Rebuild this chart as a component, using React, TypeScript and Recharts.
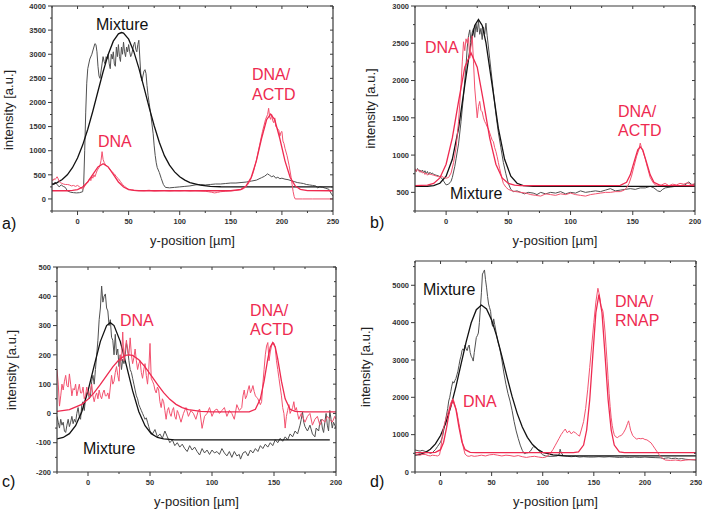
import React from 'react';
import { LineChart, Line, XAxis, YAxis } from 'recharts';

type Pt = [number, number];

// ---- panel a ----
const aMixtureData: Pt[] = [[-25,330],[-23,300],[-22,350],[-20,300],[-18,250],[-16,290],[-14,260],[-12,240],[-10,170],[-7,140],[-4,130],[-1,125],[2,130],[5,150],[6,300],[7,1000],[8,1800],[9,2400],[10,2700],[12,2900],[14,3000],[16,3150],[17,3220],[18,3200],[19,3050],[20,2750],[21,2550],[22,2500],[24,2800],[25,2950],[26,2850],[27,2800],[28,2950],[29,2900],[30,3000],[31,2800],[32,2700],[33,3000],[34,2900],[35,3050],[36,2800],[37,2750],[38,3150],[39,2950],[40,3200],[41,2950],[42,2850],[43,3150],[44,3000],[45,3250],[46,3050],[47,2950],[48,3150],[49,3050],[50,3200],[51,3050],[52,2950],[53,3000],[54,3100],[55,3200],[56,3250],[57,3100],[58,3050],[59,3200],[60,3290],[61,2900],[62,2550],[63,2450],[64,2550],[65,2650],[66,2680],[67,2600],[68,2350],[69,2150],[70,2000],[72,1700],[74,1350],[75,1100],[76,900],[77,750],[78,650],[80,550],[82,420],[84,300],[86,240],[90,230],[95,240],[100,250],[105,260],[110,270],[115,290],[120,300],[125,290],[130,300],[135,310],[140,310],[145,320],[150,330],[155,330],[160,340],[165,350],[170,370],[175,390],[180,440],[183,470],[186,520],[188,490],[190,460],[192,480],[194,430],[196,450],[198,420],[200,430],[203,410],[206,400],[209,380],[212,360],[215,340],[218,330],[221,320],[224,300],[227,290],[230,280],[233,270],[235,230],[237,250],[240,240],[243,220],[246,200],[248,120],[250,60]];
const aMixtureFit: Pt[] = [[-25,299],[-20,338],[-15,402],[-10,500],[-5,647],[0,850],[5,1116],[10,1444],[15,1823],[20,2232],[25,2637],[30,2996],[35,3271],[40,3424],[43,3450],[45,3438],[50,3312],[55,3059],[60,2713],[65,2314],[70,1904],[75,1517],[80,1177],[85,898],[90,700],[95,560],[100,460],[105,390],[110,340],[120,285],[130,262],[140,253],[250,250]];
const aDnaData: Pt[] = [[-25,400],[-24,380],[-23,420],[-22,400],[-21,430],[-20,460],[-19,420],[-18,360],[-17,340],[-16,330],[-14,310],[-12,300],[-10,300],[-8,290],[-6,270],[-4,280],[-2,260],[0,280],[2,250],[4,220],[5,200],[6,230],[8,300],[10,360],[12,420],[13,380],[14,470],[15,430],[16,500],[17,460],[18,520],[19,580],[20,620],[21,650],[22,700],[23,800],[24,980],[25,820],[26,760],[27,720],[28,700],[30,660],[32,600],[34,560],[36,520],[38,460],[40,420],[42,360],[44,300],[46,260],[48,230],[50,200],[53,190],[56,180],[60,175],[65,170],[70,180],[75,165],[80,170],[85,175],[90,165],[95,172],[100,168],[105,175],[110,165],[115,170],[120,165],[125,160],[128,150],[131,140],[134,125],[137,135],[140,150],[145,160],[150,170],[155,175],[160,190],[163,220],[166,280],[169,380],[172,550],[175,800],[178,1100],[181,1400],[184,1650],[186,1750],[187,1880],[188,1700],[189,1650],[190,1750],[191,1620],[192,1580],[193,1680],[194,1500],[195,1480],[196,1450],[197,1420],[198,1300],[199,1380],[200,1400],[201,1200],[202,1150],[203,1050],[205,900],[207,700],[209,450],[210,300],[211,150],[212,50],[213,0],[220,0],[230,0],[250,0]];
const aDnaFit: Pt[] = [[-25,170],[-10,170],[-5,176],[0,195],[5,246],[10,352],[15,510],[20,664],[25,730],[30,664],[35,510],[40,352],[45,246],[50,195],[55,176],[60,170],[150,170],[160,198],[165,270],[170,450],[175,790],[180,1248],[185,1642],[189,1760],[193,1642],[198,1248],[203,790],[208,450],[213,270],[218,198],[225,172],[250,170]];

// ---- panel b ----
const bMixtureData: Pt[] = [[-25,800],[-24,780],[-23,820],[-22,790],[-21,800],[-20,770],[-19,800],[-18,760],[-17,790],[-16,750],[-15,780],[-14,740],[-13,770],[-12,750],[-11,760],[-10,740],[-8,730],[-6,720],[-4,700],[-2,650],[0,600],[2,610],[4,650],[5,700],[7,850],[8,950],[10,1150],[12,1450],[14,1800],[16,2200],[17,2450],[18,2600],[19,2680],[20,2520],[21,2650],[22,2700],[23,2580],[24,2760],[25,2650],[26,2800],[27,2620],[28,2700],[29,2550],[30,2720],[31,2620],[32,2770],[33,2600],[34,2450],[35,2300],[36,2150],[38,1850],[40,1550],[42,1300],[44,1100],[46,900],[48,750],[50,620],[52,540],[54,510],[57,520],[60,500],[63,480],[66,500],[70,490],[73,470],[76,500],[80,480],[84,500],[88,490],[92,510],[96,480],[100,500],[104,490],[108,520],[112,500],[116,510],[120,520],[124,510],[128,530],[132,550],[136,520],[140,530],[144,540],[148,550],[152,540],[156,560],[160,560],[164,580],[167,560],[170,520],[172,510],[174,540],[176,560],[180,570],[184,580],[188,590],[192,600],[195,640],[197,610],[200,600]];
const bMixtureFit: Pt[] = [[-25,580],[-15,582],[-10,590],[-5,622],[0,717],[5,943],[10,1358],[15,1939],[20,2510],[23,2740],[26,2820],[29,2740],[32,2510],[37,1939],[42,1358],[47,943],[52,717],[57,622],[62,590],[70,580],[200,580]];
const bDnaData: Pt[] = [[-25,820],[-24,780],[-23,810],[-22,790],[-21,770],[-20,790],[-19,760],[-18,770],[-17,740],[-16,760],[-15,730],[-14,750],[-12,740],[-10,730],[-8,720],[-6,710],[-4,720],[-2,700],[0,690],[2,700],[4,760],[6,900],[8,1100],[10,1450],[11,1700],[12,1950],[13,2250],[14,2520],[15,2400],[16,2560],[17,2500],[18,2580],[19,2300],[20,2480],[21,2600],[22,2250],[23,1900],[24,1700],[25,1500],[26,1650],[27,1720],[28,1600],[29,1580],[30,1500],[31,1450],[32,1420],[33,1380],[34,1350],[35,1300],[36,1250],[37,1200],[38,1180],[39,1100],[40,1050],[41,980],[42,900],[43,820],[44,750],[45,680],[46,620],[48,570],[50,540],[53,520],[56,510],[60,500],[64,490],[68,470],[72,460],[76,450],[80,480],[84,470],[88,460],[92,480],[96,470],[100,490],[104,470],[108,460],[112,450],[116,470],[120,480],[124,490],[128,500],[132,500],[136,510],[140,510],[143,530],[145,560],[147,620],[149,720],[151,850],[153,980],[155,1080],[156,1160],[157,1100],[158,1060],[160,950],[162,820],[164,700],[166,640],[168,600],[170,590],[173,600],[176,620],[179,590],[182,610],[185,600],[188,620],[191,610],[194,630],[197,600],[200,620]];
const bDnaFit: Pt[] = [[-25,590],[-15,597],[-10,620],[-5,694],[0,878],[5,1230],[10,1720],[15,2179],[20,2370],[25,2179],[30,1720],[35,1230],[40,878],[45,694],[50,620],[55,597],[60,590],[140,593],[145,636],[148,735],[151,906],[154,1070],[156,1110],[158,1070],[161,906],[164,735],[167,636],[172,593],[200,590]];

// ---- panel c ----
const cMixtureData: Pt[] = [[-25,-10],[-24,-30],[-23,-50],[-22,-20],[-21,-40],[-20,-30],[-19,-60],[-18,-65],[-17,-40],[-16,-20],[-15,-45],[-14,-30],[-13,-10],[-12,-35],[-11,-20],[-10,-30],[-9,0],[-8,20],[-7,-10],[-6,-20],[-5,30],[-4,40],[-3,10],[-2,50],[-1,70],[0,80],[1,50],[2,60],[3,110],[4,130],[5,100],[6,150],[7,200],[8,250],[9,320],[10,360],[11,435],[12,380],[13,400],[14,408],[15,360],[16,350],[17,300],[18,320],[19,260],[20,250],[21,200],[22,270],[23,200],[24,220],[25,160],[26,200],[27,150],[28,185],[29,170],[30,200],[31,240],[32,220],[33,180],[34,150],[35,140],[36,120],[37,100],[38,80],[39,60],[40,50],[41,30],[42,20],[43,10],[44,0],[45,-10],[46,-20],[47,-15],[48,-30],[49,-45],[50,-60],[52,-70],[54,-55],[56,-80],[58,-70],[60,-85],[62,-60],[64,-80],[66,-100],[68,-90],[70,-110],[72,-100],[74,-115],[76,-105],[78,-120],[80,-130],[82,-110],[84,-125],[86,-115],[88,-130],[90,-142],[92,-120],[94,-135],[96,-125],[98,-140],[100,-125],[102,-135],[104,-130],[106,-140],[108,-120],[110,-135],[112,-145],[114,-130],[116,-150],[118,-130],[120,-145],[122,-140],[123,-156],[125,-135],[127,-130],[129,-145],[131,-125],[133,-135],[135,-120],[137,-130],[139,-110],[141,-120],[143,-105],[145,-115],[147,-100],[149,-110],[151,-90],[153,-100],[155,-85],[157,-95],[159,-80],[161,-90],[163,-70],[165,-80],[167,-60],[169,-70],[171,-40],[172,-20],[173,5],[174,-30],[175,-45],[177,-60],[179,-40],[181,-70],[183,-80],[184,-50],[186,-60],[187,-30],[188,-20],[189,-50],[190,-65],[191,-30],[192,0],[193,-40],[194,-60],[195,10],[196,-20],[197,-50],[198,-30],[199,-40],[200,-50]];
const cMixtureFit: Pt[] = [[-25,-87],[-20,-82],[-15,-69],[-10,-42],[-5,6],[0,77],[5,163],[10,246],[15,300],[18,310],[21,300],[26,246],[31,163],[36,77],[41,6],[46,-42],[51,-69],[56,-82],[61,-87],[70,-90],[195,-90]];
const cDnaData: Pt[] = [[-25,150],[-24,100],[-23,25],[-22,60],[-21,100],[-20,80],[-19,110],[-18,130],[-17,95],[-16,90],[-15,135],[-14,100],[-13,60],[-12,85],[-11,80],[-10,100],[-9,60],[-8,80],[-7,100],[-6,70],[-5,70],[-4,90],[-3,50],[-2,60],[-1,90],[0,70],[1,60],[2,80],[3,100],[4,60],[5,40],[6,60],[7,70],[8,50],[9,80],[10,60],[11,50],[12,70],[13,80],[14,60],[15,60],[16,70],[17,50],[18,90],[19,130],[20,100],[21,110],[22,140],[23,160],[24,130],[25,110],[26,200],[27,180],[28,278],[29,180],[30,220],[31,250],[32,210],[33,200],[34,258],[35,200],[36,170],[37,190],[38,220],[39,180],[40,150],[41,170],[42,180],[43,140],[44,120],[45,150],[46,170],[47,130],[48,100],[49,150],[50,239],[51,120],[52,110],[53,100],[54,80],[55,70],[56,90],[57,80],[58,40],[59,20],[60,50],[61,40],[62,10],[63,-20],[64,10],[65,20],[66,0],[67,-10],[68,10],[69,20],[70,-10],[71,-20],[72,10],[73,0],[75,-30],[77,0],[79,20],[81,-10],[83,10],[85,0],[87,-20],[89,10],[90,15],[92,-51],[94,-10],[96,0],[98,20],[100,-10],[102,10],[104,15],[106,0],[108,10],[110,20],[112,-10],[114,10],[116,0],[118,-20],[120,30],[122,10],[124,20],[125,60],[126,80],[127,50],[128,60],[129,80],[130,95],[131,70],[132,80],[133,95],[134,75],[135,60],[136,55],[137,50],[138,40],[139,30],[140,40],[141,100],[142,150],[143,200],[144,230],[145,242],[146,180],[147,210],[148,230],[149,242],[150,240],[151,225],[152,180],[153,150],[154,120],[155,90],[156,60],[157,20],[158,0],[159,-50],[160,-10],[161,10],[162,30],[163,0],[164,10],[165,20],[166,40],[167,10],[168,20],[169,0],[170,-20],[172,0],[174,-20],[175,-30],[177,-10],[179,0],[181,-40],[183,-20],[185,-10],[187,-40],[189,-20],[191,-30],[193,-10],[195,-20],[197,-30],[199,-10],[200,-20]];
const cDnaFit: Pt[] = [[-25,7],[-15,13],[-5,31],[0,48],[5,71],[10,99],[15,129],[20,159],[25,183],[30,198],[33,200],[36,198],[41,183],[46,159],[51,129],[56,99],[61,71],[66,48],[71,31],[76,20],[81,13],[91,7],[100,5],[130,5],[135,14],[139,50],[142,110],[145,186],[147,227],[149,242],[151,227],[153,186],[156,110],[159,50],[163,14],[167,7],[175,5],[200,5]];

// ---- panel d ----
const dMixtureData: Pt[] = [[-25,590],[-22,570],[-20,560],[-18,580],[-15,550],[-12,530],[-10,500],[-8,520],[-5,600],[-3,680],[0,800],[2,950],[3,1100],[5,1400],[7,1700],[8,1900],[9,2000],[10,2150],[11,2300],[12,2420],[13,2380],[14,2450],[15,2500],[16,2600],[17,2700],[18,2850],[19,3000],[20,3100],[21,3250],[22,3300],[23,3250],[24,3400],[25,3300],[26,3250],[27,3350],[28,3400],[29,3200],[30,3100],[31,3050],[32,2970],[33,3200],[34,3400],[35,3600],[36,3650],[37,3720],[38,4000],[39,4400],[40,4800],[41,5300],[42,5350],[43,5410],[44,5150],[45,4950],[46,4700],[47,4500],[48,4400],[49,4300],[50,4000],[51,3900],[52,4100],[53,3950],[54,3800],[55,3650],[56,3500],[58,3300],[60,3000],[62,2650],[64,2350],[66,2100],[68,1900],[70,1650],[72,1350],[74,1100],[76,900],[78,720],[80,580],[82,490],[84,510],[86,520],[88,560],[90,650],[91,680],[93,660],[95,600],[97,540],[100,460],[103,430],[106,420],[110,420],[114,430],[116,460],[117,610],[118,520],[120,440],[124,420],[128,410],[132,420],[136,400],[140,410],[145,400],[150,400],[155,410],[160,400],[165,410],[170,400],[175,390],[180,400],[185,390],[190,400],[195,390],[200,400],[205,390],[210,385],[215,380],[218,360],[220,370],[223,380],[226,360],[230,370],[233,350],[236,360],[240,340],[245,330],[250,320]];
const dMixtureFit: Pt[] = [[-25,451],[-20,475],[-15,522],[-10,608],[-5,752],[0,977],[5,1304],[10,1742],[15,2280],[20,2881],[25,3480],[30,3995],[35,4345],[40,4470],[45,4367],[50,4073],[55,3632],[60,3102],[65,2548],[70,2024],[75,1570],[80,1204],[85,929],[90,736],[95,608],[100,528],[110,456],[120,435],[130,430],[250,430]];
const dDnaData: Pt[] = [[-25,480],[-22,460],[-20,450],[-18,470],[-15,470],[-12,440],[-10,430],[-8,450],[-5,440],[-3,430],[-1,460],[0,600],[1,800],[2,1050],[4,1300],[6,1500],[8,1650],[10,1850],[12,1960],[13,1900],[14,1800],[15,1700],[16,1600],[17,1450],[18,1300],[19,1150],[20,1000],[21,850],[22,700],[23,580],[24,480],[26,430],[28,420],[30,440],[33,420],[36,430],[40,450],[44,430],[48,460],[52,470],[56,450],[60,430],[64,450],[68,440],[72,420],[76,440],[80,410],[84,390],[88,410],[92,420],[96,400],[100,385],[103,400],[106,450],[108,520],[110,600],[112,700],[114,800],[116,900],[118,1000],[120,1080],[122,1150],[124,1050],[126,1100],[128,1020],[130,1080],[132,1050],[134,1000],[136,960],[138,1150],[140,1350],[142,1700],[144,2200],[146,2800],[148,3400],[150,4000],[152,4550],[154,4920],[155,4800],[156,4650],[157,4450],[158,4380],[159,4300],[160,4050],[161,3750],[162,3350],[163,2950],[164,2500],[165,2100],[166,1750],[167,1450],[168,1250],[169,1100],[170,1000],[171,950],[173,920],[175,960],[177,980],[179,1050],[181,1150],[183,1300],[184,1370],[185,1250],[186,1120],[188,980],[190,920],[192,880],[194,900],[196,890],[198,900],[200,870],[202,860],[204,820],[206,780],[208,700],[210,620],[212,540],[214,460],[216,400],[218,350],[220,320],[225,310],[230,320],[235,300],[240,320],[245,330],[250,330]];
const dDnaFit: Pt[] = [[-25,520],[-10,520],[-5,524],[0,598],[3,797],[6,1201],[9,1689],[12,1920],[15,1689],[18,1201],[21,797],[24,598],[29,524],[35,520],[130,520],[135,539],[140,722],[143,1124],[146,1935],[149,3120],[152,4265],[155,4750],[158,4265],[161,3120],[164,1935],[167,1124],[170,722],[175,539],[180,520],[250,520]];

// ticks
const xMajor250 = [0, 50, 100, 150, 200, 250];
const xMinor250 = [-25, 25, 75, 125, 175, 225];
const xMajor200 = [0, 50, 100, 150, 200];
const xMinor200 = [-25, 25, 75, 125, 175];
const aYMajor = [0, 500, 1000, 1500, 2000, 2500, 3000, 3500, 4000];
const aYMinor = [-250, 250, 750, 1250, 1750, 2250, 2750, 3250, 3750];
const bYMajor = [500, 1000, 1500, 2000, 2500, 3000];
const bYMinor = [250, 750, 1250, 1750, 2250, 2750];
const cYMajor = [-200, -100, 0, 100, 200, 300, 400, 500];
const cYMinor = [-150, -50, 50, 150, 250, 350, 450];
const dYMajor = [0, 1000, 2000, 3000, 4000, 5000];
const dYMinor = [500, 1500, 2500, 3500, 4500, 5500];

const RED = '#ee2a50';
const RED_DATA = '#f3526f';
const GRAY = '#505050';
const BLACK = '#111111';
const AXIS = '#3a3a3a';
const FONT = '"Liberation Sans", Arial, sans-serif';

const toPts = (arr: Pt[]) => arr.map(([x, y]) => ({ x, y }));

function Tick(props: any) {
  const { x, y, payload, side, majors } = props;
  const v = payload.value;
  const major = majors.includes(v);
  const len = major ? 4 : 2;
  const txt = { fontSize: 7.5, fontWeight: 700, fill: '#333', fontFamily: FONT };
  if (side === 'bottom') {
    return (
      <g>
        <line x1={x} y1={y} x2={x} y2={y + len} stroke={AXIS} />
        {major && <text x={x} y={y + 13} textAnchor="middle" style={txt}>{v}</text>}
      </g>
    );
  }
  if (side === 'left') {
    return (
      <g>
        <line x1={x} y1={y} x2={x - len} y2={y} stroke={AXIS} />
        {major && <text x={x - 6} y={y + 2.7} textAnchor="end" style={txt}>{v}</text>}
      </g>
    );
  }
  if (side === 'top') {
    return <line x1={x} y1={y} x2={x} y2={y + (major ? 3 : 2)} stroke={AXIS} />;
  }
  return <line x1={x} y1={y} x2={x - (major ? 3 : 2)} y2={y} stroke={AXIS} />;
}

type Series = { data: Pt[]; color: string; width: number };

function Panel(p: {
  left: number; top: number; mt: number; mr: number; yw: number; xh: number;
  xDomain: [number, number]; yDomain: [number, number];
  xMajor: number[]; xMinor: number[]; yMajor: number[]; yMinor: number[];
  series: Series[];
}) {
  const xs = [...p.xMajor, ...p.xMinor].sort((a, b) => a - b);
  const ys = [...p.yMajor, ...p.yMinor].sort((a, b) => a - b);
  const common = { tickSize: 0, tickMargin: 0, tickLine: false, interval: 0 as const, allowDataOverflow: true, axisLine: { stroke: AXIS, strokeWidth: 1.2 } };
  return (
    <div style={{ position: 'absolute', left: p.left, top: p.top }}>
      <LineChart width={353} height={255} margin={{ top: p.mt, right: p.mr, bottom: 0, left: 0 }}>
        <XAxis type="number" dataKey="x" domain={p.xDomain} ticks={xs} height={p.xh} {...common}
          tick={(t: any) => <Tick {...t} side="bottom" majors={p.xMajor} />} />
        <XAxis xAxisId="t" orientation="top" mirror type="number" dataKey="x" domain={p.xDomain} ticks={xs} {...common}
          tick={(t: any) => <Tick {...t} side="top" majors={p.xMajor} />} />
        <YAxis type="number" domain={p.yDomain} ticks={ys} width={p.yw} {...common}
          tick={(t: any) => <Tick {...t} side="left" majors={p.yMajor} />} />
        <YAxis yAxisId="r" orientation="right" mirror type="number" domain={p.yDomain} ticks={ys} {...common}
          tick={(t: any) => <Tick {...t} side="right" majors={p.yMajor} />} />
        {p.series.map((s, i) => (
          <Line key={i} data={toPts(s.data)} dataKey="y" type="linear" stroke={s.color} strokeWidth={s.width}
            dot={false} activeDot={false} isAnimationActive={false} />
        ))}
      </LineChart>
    </div>
  );
}

const labels: { t: string; x: number; y: number; c: string }[] = [
  { t: 'Mixture', x: 96, y: 30, c: BLACK },
  { t: 'DNA', x: 98, y: 146.5, c: RED },
  { t: 'DNA/', x: 252, y: 80, c: RED },
  { t: 'ACTD', x: 252, y: 99.5, c: RED },
  { t: 'a)', x: 2, y: 229, c: BLACK },
  { t: 'DNA', x: 425, y: 52.5, c: RED },
  { t: 'Mixture', x: 450, y: 198.5, c: BLACK },
  { t: 'DNA/', x: 618, y: 116.5, c: RED },
  { t: 'ACTD', x: 618, y: 136, c: RED },
  { t: 'b)', x: 370, y: 228, c: BLACK },
  { t: 'DNA', x: 120, y: 325.8, c: RED },
  { t: 'Mixture', x: 83, y: 454, c: BLACK },
  { t: 'DNA/', x: 250, y: 316, c: RED },
  { t: 'ACTD', x: 250, y: 335, c: RED },
  { t: 'c)', x: 2, y: 487, c: BLACK },
  { t: 'Mixture', x: 423, y: 295, c: BLACK },
  { t: 'DNA', x: 463, y: 406.5, c: RED },
  { t: 'DNA/', x: 615, y: 307, c: RED },
  { t: 'RNAP', x: 615, y: 326, c: RED },
  { t: 'd)', x: 370, y: 487, c: BLACK },
];

const xTitles = [[192.5, 245], [555, 245], [196.5, 506], [555.5, 506]];
const yTitles = [[12.5, 110], [374.5, 108.5], [16, 370], [370, 367]];

export default function App() {
  return (
    <div style={{ position: 'absolute', left: 0, top: 0, width: 706, height: 510, background: '#fff', overflow: 'hidden' }}>
      <Panel left={0} top={0} mt={6} mr={20} yw={52} xh={44} xDomain={[-25, 250]} yDomain={[-250, 4000]}
        xMajor={xMajor250} xMinor={xMinor250} yMajor={aYMajor} yMinor={aYMinor}
        series={[
          { data: aMixtureData, color: GRAY, width: 1 },
          { data: aMixtureFit, color: BLACK, width: 1.3 },
          { data: aDnaData, color: RED_DATA, width: 1 },
          { data: aDnaFit, color: RED, width: 1.3 },
        ]} />
      <Panel left={353} top={0} mt={6} mr={11} yw={62} xh={44} xDomain={[-25, 200]} yDomain={[250, 3000]}
        xMajor={xMajor200} xMinor={xMinor200} yMajor={bYMajor} yMinor={bYMinor}
        series={[
          { data: bMixtureData, color: GRAY, width: 1 },
          { data: bMixtureFit, color: BLACK, width: 1.3 },
          { data: bDnaData, color: RED_DATA, width: 1 },
          { data: bDnaFit, color: RED, width: 1.3 },
        ]} />
      <Panel left={0} top={255} mt={12} mr={17} yw={57} xh={38} xDomain={[-25, 200]} yDomain={[-200, 500]}
        xMajor={xMajor200} xMinor={xMinor200} yMajor={cYMajor} yMinor={cYMinor}
        series={[
          { data: cMixtureData, color: GRAY, width: 1 },
          { data: cMixtureFit, color: BLACK, width: 1.3 },
          { data: cDnaData, color: RED_DATA, width: 1 },
          { data: cDnaFit, color: RED, width: 1.3 },
        ]} />
      <Panel left={353} top={255} mt={6} mr={10} yw={62} xh={38} xDomain={[-25, 250]} yDomain={[0, 5650]}
        xMajor={xMajor250} xMinor={xMinor250} yMajor={dYMajor} yMinor={dYMinor}
        series={[
          { data: dMixtureData, color: GRAY, width: 1 },
          { data: dMixtureFit, color: BLACK, width: 1.3 },
          { data: dDnaData, color: RED_DATA, width: 1 },
          { data: dDnaFit, color: RED, width: 1.3 },
        ]} />
      <svg width={706} height={510} style={{ position: 'absolute', left: 0, top: 0, pointerEvents: 'none' }}>
        {labels.map((l, i) => (
          <text key={i} x={l.x} y={l.y} fill={l.c} fontSize={16} fontFamily={FONT}>{l.t}</text>
        ))}
        {xTitles.map(([x, y], i) => (
          <text key={'x' + i} x={x} y={y} textAnchor="middle" fontSize={13} fill="#222" fontFamily={FONT}>y-position [µm]</text>
        ))}
        {yTitles.map(([x, y], i) => (
          <text key={'y' + i} x={x} y={y} textAnchor="middle" fontSize={13} fill="#222" fontFamily={FONT}
            transform={`rotate(-90 ${x} ${y})`}>intensity [a.u.]</text>
        ))}
      </svg>
    </div>
  );
}
